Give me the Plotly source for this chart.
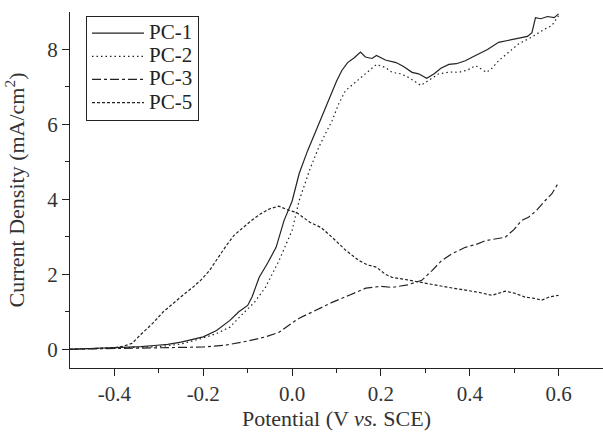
import plotly.graph_objects as go

# ---- data ----
pc1_x = [-0.50, -0.45, -0.40, -0.37, -0.34, -0.31, -0.28, -0.25, -0.22, -0.20, -0.17, -0.14, -0.12, -0.10,
         -0.09, -0.074, -0.055, -0.036, -0.018, 0.0, 0.016, 0.035, 0.054, 0.07, 0.09, 0.10, 0.112, 0.125,
         0.14, 0.154, 0.165, 0.18, 0.19, 0.21, 0.234, 0.25, 0.27, 0.285, 0.303, 0.32, 0.335, 0.353, 0.37,
         0.39, 0.413, 0.44, 0.465, 0.49, 0.51, 0.53, 0.54, 0.548, 0.56, 0.575, 0.59, 0.60]
pc1_y = [0.0, 0.02, 0.03, 0.05, 0.07, 0.10, 0.13, 0.19, 0.27, 0.33, 0.50, 0.77, 1.00, 1.17,
         1.40, 1.92, 2.30, 2.72, 3.44, 3.95, 4.69, 5.30, 5.84, 6.30, 6.90, 7.15, 7.44, 7.65,
         7.78, 7.93, 7.80, 7.76, 7.84, 7.72, 7.65, 7.55, 7.39, 7.35, 7.23, 7.35, 7.50, 7.60, 7.62,
         7.70, 7.84, 8.00, 8.19, 8.25, 8.29, 8.35, 8.45, 8.85, 8.82, 8.88, 8.85, 8.95]

pc2_x = [-0.50, -0.45, -0.40, -0.35, -0.30, -0.25, -0.20, -0.17, -0.14, -0.11, -0.085, -0.06, -0.03,
         0.0, 0.016, 0.04, 0.06, 0.075, 0.09, 0.105, 0.12, 0.135, 0.15, 0.17, 0.19, 0.21, 0.225, 0.245,
         0.263, 0.29, 0.31, 0.33, 0.355, 0.375, 0.395, 0.413, 0.438, 0.45, 0.465, 0.49, 0.51, 0.535,
         0.555, 0.57, 0.585, 0.60]
pc2_y = [0.0, 0.02, 0.03, 0.04, 0.07, 0.14, 0.30, 0.42, 0.59, 0.96, 1.25, 1.65, 2.35,
         3.17, 3.97, 4.80, 5.39, 5.75, 6.10, 6.55, 6.90, 7.05, 7.20, 7.40, 7.60, 7.52, 7.39, 7.35,
         7.25, 7.04, 7.20, 7.35, 7.40, 7.39, 7.45, 7.57, 7.39, 7.50, 7.70, 7.95, 8.15, 8.30,
         8.45, 8.55, 8.64, 8.90]

pc3_x = [-0.50, -0.45, -0.40, -0.35, -0.30, -0.25, -0.20, -0.15, -0.10, -0.06, -0.03, 0.0, 0.016,
         0.05, 0.09, 0.13, 0.166, 0.20, 0.225, 0.26, 0.292, 0.315, 0.337, 0.36, 0.39, 0.415, 0.436,
         0.46, 0.48, 0.50, 0.517, 0.532, 0.55, 0.57, 0.585, 0.60]
pc3_y = [0.0, 0.01, 0.02, 0.02, 0.03, 0.04, 0.06, 0.11, 0.22, 0.33, 0.45, 0.70, 0.83,
         1.02, 1.25, 1.45, 1.63, 1.68, 1.65, 1.72, 1.84, 2.10, 2.37, 2.55, 2.72, 2.80, 2.90,
         2.95, 2.99, 3.20, 3.44, 3.52, 3.70, 3.97, 4.15, 4.45]

pc5_x = [-0.50, -0.45, -0.40, -0.38, -0.36, -0.34, -0.314, -0.29, -0.26, -0.24, -0.224, -0.205,
         -0.186, -0.167, -0.148, -0.13, -0.11, -0.09, -0.07, -0.05, -0.03, -0.01, 0.01, 0.04, 0.065,
         0.09, 0.12, 0.15, 0.17, 0.19, 0.21, 0.225, 0.26, 0.292, 0.32, 0.353, 0.39, 0.42, 0.45,
         0.48, 0.50, 0.525, 0.545, 0.562, 0.58, 0.60]
pc5_y = [0.0, 0.02, 0.04, 0.08, 0.16, 0.40, 0.69, 1.00, 1.31, 1.50, 1.65, 1.85,
         2.10, 2.45, 2.77, 3.05, 3.25, 3.45, 3.62, 3.75, 3.82, 3.72, 3.65, 3.39, 3.25,
         2.99, 2.65, 2.37, 2.25, 2.19, 2.00, 1.92, 1.85, 1.79, 1.72, 1.65, 1.58, 1.52, 1.44,
         1.55, 1.50, 1.39, 1.36, 1.31, 1.40, 1.44]

names = ["PC-1", "PC-2", "PC-3", "PC-5"]
dashes = ["solid", "1.5px,3px", "dashdot", "3px,2px"]
series = [(pc1_x, pc1_y), (pc2_x, pc2_y), (pc3_x, pc3_y), (pc5_x, pc5_y)]

x_ticks = [-0.4, -0.2, 0.0, 0.2, 0.4, 0.6]
x_ticklabels = ["-0.4", "-0.2", "0.0", "0.2", "0.4", "0.6"]
y_ticks = [0, 2, 4, 6, 8]

fig = go.Figure()
for (xs, ys), n, d in zip(series, names, dashes):
    fig.add_trace(go.Scatter(x=xs, y=ys, mode="lines",
                             name="<span style='font-size:21px'>" + n + "</span>",
                             line=dict(color="#222222", width=1.2, dash=d)))

fam = "Liberation Serif, Times New Roman, serif"
ink = "#333333"
fig.update_layout(
    width=603, height=434,
    margin=dict(l=70, r=0, t=12, b=66),
    paper_bgcolor="white", plot_bgcolor="white",
    font=dict(family=fam, size=18, color=ink),
    showlegend=True,
    legend=dict(x=0.03, y=0.99, xanchor="left", yanchor="top",
                bordercolor="#222222", borderwidth=1, bgcolor="white",
                font=dict(family=fam, size=15.5, color="#222222"),
                tracegroupgap=0, itemwidth=52),
    xaxis=dict(range=[-0.5, 0.7], tickvals=x_ticks, ticktext=x_ticklabels,
               tickfont=dict(family=fam, size=21, color=ink),
               showgrid=False, zeroline=False, showline=True, linecolor="#222222", linewidth=1.2,
               ticks="outside", ticklen=7, tickcolor="#222222",
               minor=dict(tickvals=[-0.3, -0.1, 0.1, 0.3, 0.5], ticks="outside", ticklen=4, tickcolor="#222222"),
               title=dict(text="Potential (V <i>vs.</i> SCE)", standoff=3,
                          font=dict(family=fam, size=22, color=ink))),
    yaxis=dict(range=[-0.5, 9.0], tickvals=y_ticks,
               tickfont=dict(family=fam, size=21, color=ink),
               showgrid=False, zeroline=False, showline=True, linecolor="#222222", linewidth=1.2,
               ticks="outside", ticklen=7, tickcolor="#222222",
               minor=dict(tickvals=[1, 3, 5, 7], ticks="outside", ticklen=4, tickcolor="#222222"),
               title=dict(text="Current Density (mA/cm<sup>2</sup>)", standoff=16,
                          font=dict(family=fam, size=22, color=ink))),
)

fig.write_html("out.html")
